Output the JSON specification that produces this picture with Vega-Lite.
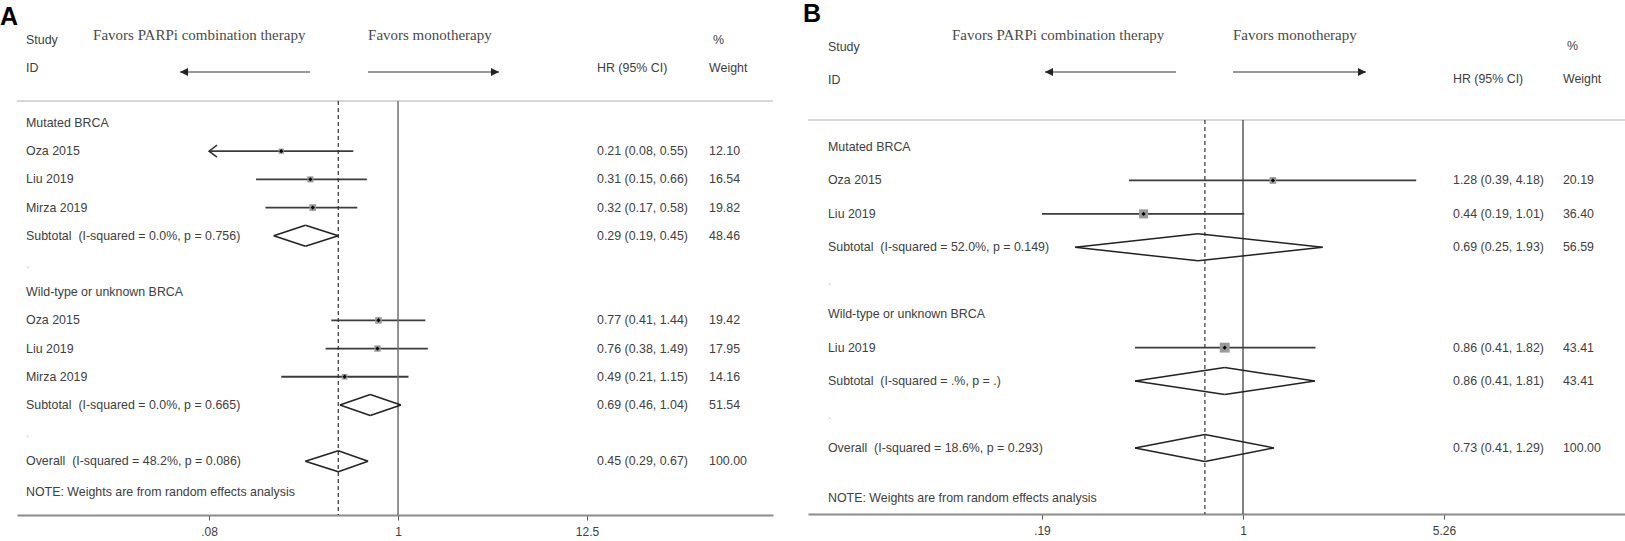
{
  "$schema": "https://vega.github.io/schema/vega-lite/v6.json",
  "background": "white",
  "padding": {"left": 0, "top": 0, "right": 0, "bottom": 26},
  "spacing": 35,
  "bounds": "flush",
  "config": {
    "view": {"stroke": null},
    "font": "Liberation Sans",
    "text": {"font": "Liberation Sans", "fontSize": 12.4, "color": "#404040", "align": "left", "baseline": "middle"},
    "axis": {"grid": false}
  },
  "datasets": {
    "a": [
      {"row": 1, "label": "Mutated BRCA", "type": "head"},
      {"row": 2, "label": "Oza 2015", "type": "study", "hr": 0.21, "lo": 0.08, "hi": 0.55, "ci": "0.21 (0.08, 0.55)", "w": 12.10},
      {"row": 3, "label": "Liu 2019", "type": "study", "hr": 0.31, "lo": 0.15, "hi": 0.66, "ci": "0.31 (0.15, 0.66)", "w": 16.54},
      {"row": 4, "label": "Mirza 2019", "type": "study", "hr": 0.32, "lo": 0.17, "hi": 0.58, "ci": "0.32 (0.17, 0.58)", "w": 19.82},
      {"row": 5, "label": "Subtotal \u00a0(I-squared = 0.0%, p = 0.756)", "type": "pooled", "hr": 0.29, "lo": 0.19, "hi": 0.45, "ci": "0.29 (0.19, 0.45)", "w": 48.46},
      {"row": 6, "label": ".", "type": "blank"},
      {"row": 7, "label": "Wild-type or unknown BRCA", "type": "head"},
      {"row": 8, "label": "Oza 2015", "type": "study", "hr": 0.77, "lo": 0.41, "hi": 1.44, "ci": "0.77 (0.41, 1.44)", "w": 19.42},
      {"row": 9, "label": "Liu 2019", "type": "study", "hr": 0.76, "lo": 0.38, "hi": 1.49, "ci": "0.76 (0.38, 1.49)", "w": 17.95},
      {"row": 10, "label": "Mirza 2019", "type": "study", "hr": 0.49, "lo": 0.21, "hi": 1.15, "ci": "0.49 (0.21, 1.15)", "w": 14.16},
      {"row": 11, "label": "Subtotal \u00a0(I-squared = 0.0%, p = 0.665)", "type": "pooled", "hr": 0.69, "lo": 0.46, "hi": 1.04, "ci": "0.69 (0.46, 1.04)", "w": 51.54},
      {"row": 12, "label": ".", "type": "blank"},
      {"row": 13, "label": "Overall \u00a0(I-squared = 48.2%, p = 0.086)", "type": "pooled", "hr": 0.45, "lo": 0.29, "hi": 0.67, "ci": "0.45 (0.29, 0.67)", "w": 100.00}
    ],
    "b": [
      {"row": 1, "label": "Mutated BRCA", "type": "head"},
      {"row": 2, "label": "Oza 2015", "type": "study", "hr": 1.28, "lo": 0.39, "hi": 4.18, "ci": "1.28 (0.39, 4.18)", "w": 20.19},
      {"row": 3, "label": "Liu 2019", "type": "study", "hr": 0.44, "lo": 0.19, "hi": 1.01, "ci": "0.44 (0.19, 1.01)", "w": 36.40},
      {"row": 4, "label": "Subtotal \u00a0(I-squared = 52.0%, p = 0.149)", "type": "pooled", "hr": 0.69, "lo": 0.25, "hi": 1.93, "ci": "0.69 (0.25, 1.93)", "w": 56.59},
      {"row": 5, "label": ".", "type": "blank"},
      {"row": 6, "label": "Wild-type or unknown BRCA", "type": "head"},
      {"row": 7, "label": "Liu 2019", "type": "study", "hr": 0.86, "lo": 0.41, "hi": 1.82, "ci": "0.86 (0.41, 1.82)", "w": 43.41},
      {"row": 8, "label": "Subtotal \u00a0(I-squared = .%, p = .)", "type": "pooled", "hr": 0.86, "lo": 0.41, "hi": 1.81, "ci": "0.86 (0.41, 1.81)", "w": 43.41},
      {"row": 9, "label": ".", "type": "blank"},
      {"row": 10, "label": "Overall \u00a0(I-squared = 18.6%, p = 0.293)", "type": "pooled", "hr": 0.73, "lo": 0.41, "hi": 1.29, "ci": "0.73 (0.41, 1.29)", "w": 100.00}
    ]
  },
  "hconcat": [
    {
      "width": 756,
      "height": 515,
      "data": {"name": "a"},
      "resolve": {"axis": {"x": "independent", "y": "independent"}},
      "layer": [
        {"transform": [{"filter": "datum.type == 'study'"}],
         "mark": {"type": "rule", "color": "#3c3c3c", "strokeWidth": 1.8},
         "encoding": {
           "x": {"field": "lo", "type": "quantitative", "scale": {"type": "log", "domain": [0.006145, 150.1], "nice": false},
                 "axis": {"orient": "bottom", "values": [0.08, 1, 12.5], "labelExpr": "datum.value < 1 ? slice(format(datum.value, '~g'), 1) : format(datum.value, '~g')", "title": null, "domain": true, "ticks": true, "labels": true, "domainColor": "#8c8c8c", "domainWidth": 2, "tickColor": "#555555", "tickSize": 5, "tickWidth": 1, "labelFont": "Liberation Sans", "labelFontSize": 12, "labelColor": "#404040", "labelPadding": 6, "grid": false, "labelFlush": false, "labelOverlap": false}},
           "x2": {"field": "hi"},
           "y": {"field": "row", "type": "quantitative", "scale": {"domain": [-3.362, 14.904], "reverse": true, "nice": false, "zero": false}, "axis": null}
         }},
        {"data": {"values": [{}]}, "mark": {"type": "rule", "color": "#c8c8c8", "strokeWidth": 1.5},
         "encoding": {
           "x": {"datum": 0.006145, "type": "quantitative", "scale": {"type": "log", "domain": [0.006145, 150.1], "nice": false}, "axis": null},
           "x2": {"datum": 150.1},
           "y": {"datum": 0.22, "type": "quantitative", "scale": {"domain": [-3.362, 14.904], "reverse": true, "nice": false, "zero": false}, "axis": null}
         }},
        {"data": {"values": [{}]}, "mark": {"type": "rule", "color": "#707070", "strokeWidth": 1.5},
         "encoding": {
           "x": {"datum": 1, "type": "quantitative", "scale": {"type": "log", "domain": [0.006145, 150.1], "nice": false}, "axis": null},
           "y": {"datum": 0.22, "type": "quantitative", "scale": {"domain": [-3.362, 14.904], "reverse": true, "nice": false, "zero": false}, "axis": null},
           "y2": {"datum": 14.904}
         }},
        {"data": {"values": [{}]}, "mark": {"type": "rule", "color": "#333333", "strokeWidth": 1.2, "strokeDash": [4, 3]},
         "encoding": {
           "x": {"datum": 0.45, "type": "quantitative", "scale": {"type": "log", "domain": [0.006145, 150.1], "nice": false}, "axis": null},
           "y": {"datum": 0.22, "type": "quantitative", "scale": {"domain": [-3.362, 14.904], "reverse": true, "nice": false, "zero": false}, "axis": null},
           "y2": {"datum": 14.904}
         }},
        {"transform": [{"filter": "datum.type == 'study' && datum.lo <= 0.08"}],
         "mark": {"type": "point", "shape": "M1.33,-1L0,0L1.33,1", "filled": false, "stroke": "#333333", "strokeWidth": 1.5, "size": 144, "opacity": 1},
         "encoding": {
           "x": {"field": "lo", "type": "quantitative", "scale": {"type": "log", "domain": [0.006145, 150.1], "nice": false}, "axis": null},
           "y": {"field": "row", "type": "quantitative", "scale": {"domain": [-3.362, 14.904], "reverse": true, "nice": false, "zero": false}, "axis": null}
         }},
        {"transform": [{"filter": "datum.type == 'study'"}],
         "mark": {"type": "point", "shape": "square", "filled": true, "color": "#9a9a9a", "opacity": 1},
         "encoding": {
           "x": {"field": "hr", "type": "quantitative", "scale": {"type": "log", "domain": [0.006145, 150.1], "nice": false}, "axis": null},
           "y": {"field": "row", "type": "quantitative", "scale": {"domain": [-3.362, 14.904], "reverse": true, "nice": false, "zero": false}, "axis": null},
           "size": {"field": "w", "type": "quantitative", "scale": {"domain": [0, 50], "range": [0, 113]}, "legend": null}
         }},
        {"transform": [{"filter": "datum.type == 'study'"}],
         "mark": {"type": "point", "shape": "diamond", "filled": true, "color": "#000000", "size": 18, "opacity": 1},
         "encoding": {
           "x": {"field": "hr", "type": "quantitative", "scale": {"type": "log", "domain": [0.006145, 150.1], "nice": false}, "axis": null},
           "y": {"field": "row", "type": "quantitative", "scale": {"domain": [-3.362, 14.904], "reverse": true, "nice": false, "zero": false}, "axis": null}
         }},
        {"transform": [{"filter": "datum.type == 'pooled'"}],
         "mark": {"type": "rule", "color": "#222222", "strokeWidth": 1.5, "y2Offset": -10.5},
         "encoding": {
           "x": {"field": "lo", "type": "quantitative", "scale": {"type": "log", "domain": [0.006145, 150.1], "nice": false}, "axis": null},
           "x2": {"field": "hr"},
           "y": {"field": "row", "type": "quantitative", "scale": {"domain": [-3.362, 14.904], "reverse": true, "nice": false, "zero": false}, "axis": null},
           "y2": {"field": "row"}
         }},
        {"transform": [{"filter": "datum.type == 'pooled'"}],
         "mark": {"type": "rule", "color": "#222222", "strokeWidth": 1.5, "y2Offset": 10.5},
         "encoding": {
           "x": {"field": "lo", "type": "quantitative", "scale": {"type": "log", "domain": [0.006145, 150.1], "nice": false}, "axis": null},
           "x2": {"field": "hr"},
           "y": {"field": "row", "type": "quantitative", "scale": {"domain": [-3.362, 14.904], "reverse": true, "nice": false, "zero": false}, "axis": null},
           "y2": {"field": "row"}
         }},
        {"transform": [{"filter": "datum.type == 'pooled'"}],
         "mark": {"type": "rule", "color": "#222222", "strokeWidth": 1.5, "yOffset": -10.5},
         "encoding": {
           "x": {"field": "hr", "type": "quantitative", "scale": {"type": "log", "domain": [0.006145, 150.1], "nice": false}, "axis": null},
           "x2": {"field": "hi"},
           "y": {"field": "row", "type": "quantitative", "scale": {"domain": [-3.362, 14.904], "reverse": true, "nice": false, "zero": false}, "axis": null},
           "y2": {"field": "row"}
         }},
        {"transform": [{"filter": "datum.type == 'pooled'"}],
         "mark": {"type": "rule", "color": "#222222", "strokeWidth": 1.5, "yOffset": 10.5},
         "encoding": {
           "x": {"field": "hr", "type": "quantitative", "scale": {"type": "log", "domain": [0.006145, 150.1], "nice": false}, "axis": null},
           "x2": {"field": "hi"},
           "y": {"field": "row", "type": "quantitative", "scale": {"domain": [-3.362, 14.904], "reverse": true, "nice": false, "zero": false}, "axis": null},
           "y2": {"field": "row"}
         }},
        {"mark": {"type": "text"},
         "encoding": {
           "x": {"datum": 0.006934, "type": "quantitative", "scale": {"type": "log", "domain": [0.006145, 150.1], "nice": false}, "axis": null},
           "y": {"field": "row", "type": "quantitative", "scale": {"domain": [-3.362, 14.904], "reverse": true, "nice": false, "zero": false}, "axis": null},
           "text": {"field": "label"},
           "color": {"condition": {"test": "datum.type == 'blank'", "value": "#c4c4c4"}, "value": "#404040"}
         }},
        {"transform": [{"filter": "datum.ci != null"}],
         "mark": {"type": "text"},
         "encoding": {
           "x": {"datum": 14.29, "type": "quantitative", "scale": {"type": "log", "domain": [0.006145, 150.1], "nice": false}, "axis": null},
           "y": {"field": "row", "type": "quantitative", "scale": {"domain": [-3.362, 14.904], "reverse": true, "nice": false, "zero": false}, "axis": null},
           "text": {"field": "ci"}
         }},
        {"transform": [{"filter": "datum.w != null"}],
         "mark": {"type": "text"},
         "encoding": {
           "x": {"datum": 63.83, "type": "quantitative", "scale": {"type": "log", "domain": [0.006145, 150.1], "nice": false}, "axis": null},
           "y": {"field": "row", "type": "quantitative", "scale": {"domain": [-3.362, 14.904], "reverse": true, "nice": false, "zero": false}, "axis": null},
           "text": {"field": "w", "type": "quantitative", "format": ".2f"}
         }},
        {"data": {"values": [{}]}, "mark": {"type": "text", "fontSize": 25, "fontWeight": "bold", "color": "#000000", "baseline": "alphabetic"},
         "encoding": {
           "x": {"datum": 0.004899, "type": "quantitative", "scale": {"type": "log", "domain": [0.006145, 150.1], "nice": false}, "axis": null},
           "y": {"datum": -2.475, "type": "quantitative", "scale": {"domain": [-3.362, 14.904], "reverse": true, "nice": false, "zero": false}, "axis": null},
           "text": {"value": "A"}
         }},
        {"data": {"values": [{}]}, "mark": {"type": "text"},
         "encoding": {
           "x": {"datum": 0.006934, "type": "quantitative", "scale": {"type": "log", "domain": [0.006145, 150.1], "nice": false}, "axis": null},
           "y": {"datum": -1.943, "type": "quantitative", "scale": {"domain": [-3.362, 14.904], "reverse": true, "nice": false, "zero": false}, "axis": null},
           "text": {"value": "Study"}
         }},
        {"data": {"values": [{}]}, "mark": {"type": "text"},
         "encoding": {
           "x": {"datum": 0.006934, "type": "quantitative", "scale": {"type": "log", "domain": [0.006145, 150.1], "nice": false}, "axis": null},
           "y": {"datum": -0.95, "type": "quantitative", "scale": {"domain": [-3.362, 14.904], "reverse": true, "nice": false, "zero": false}, "axis": null},
           "text": {"value": "ID"}
         }},
        {"data": {"values": [{}]}, "mark": {"type": "text", "font": "Liberation Serif", "fontSize": 15, "color": "#4a4a4a"},
         "encoding": {
           "x": {"datum": 0.01698, "type": "quantitative", "scale": {"type": "log", "domain": [0.006145, 150.1], "nice": false}, "axis": null},
           "y": {"datum": -2.121, "type": "quantitative", "scale": {"domain": [-3.362, 14.904], "reverse": true, "nice": false, "zero": false}, "axis": null},
           "text": {"value": "Favors PARPi combination therapy"}
         }},
        {"data": {"values": [{}]}, "mark": {"type": "text", "font": "Liberation Serif", "fontSize": 15, "color": "#4a4a4a"},
         "encoding": {
           "x": {"datum": 0.6698, "type": "quantitative", "scale": {"type": "log", "domain": [0.006145, 150.1], "nice": false}, "axis": null},
           "y": {"datum": -2.121, "type": "quantitative", "scale": {"domain": [-3.362, 14.904], "reverse": true, "nice": false, "zero": false}, "axis": null},
           "text": {"value": "Favors monotherapy"}
         }},
        {"data": {"values": [{}]}, "mark": {"type": "rule", "color": "#777777", "strokeWidth": 1.5},
         "encoding": {
           "x": {"datum": 0.0543, "type": "quantitative", "scale": {"type": "log", "domain": [0.006145, 150.1], "nice": false}, "axis": null},
           "x2": {"datum": 0.3085},
           "y": {"datum": -0.809, "type": "quantitative", "scale": {"domain": [-3.362, 14.904], "reverse": true, "nice": false, "zero": false}, "axis": null}
         }},
        {"data": {"values": [{}]}, "mark": {"type": "point", "shape": "M0,0L2,-1L2,1Z", "filled": true, "color": "#222222", "size": 64, "opacity": 1},
         "encoding": {
           "x": {"datum": 0.0543, "type": "quantitative", "scale": {"type": "log", "domain": [0.006145, 150.1], "nice": false}, "axis": null},
           "y": {"datum": -0.809, "type": "quantitative", "scale": {"domain": [-3.362, 14.904], "reverse": true, "nice": false, "zero": false}, "axis": null}
         }},
        {"data": {"values": [{}]}, "mark": {"type": "rule", "color": "#777777", "strokeWidth": 1.5},
         "encoding": {
           "x": {"datum": 0.6698, "type": "quantitative", "scale": {"type": "log", "domain": [0.006145, 150.1], "nice": false}, "axis": null},
           "x2": {"datum": 3.857},
           "y": {"datum": -0.809, "type": "quantitative", "scale": {"domain": [-3.362, 14.904], "reverse": true, "nice": false, "zero": false}, "axis": null}
         }},
        {"data": {"values": [{}]}, "mark": {"type": "point", "shape": "M0,0L-2,-1L-2,1Z", "filled": true, "color": "#222222", "size": 64, "opacity": 1},
         "encoding": {
           "x": {"datum": 3.857, "type": "quantitative", "scale": {"type": "log", "domain": [0.006145, 150.1], "nice": false}, "axis": null},
           "y": {"datum": -0.809, "type": "quantitative", "scale": {"domain": [-3.362, 14.904], "reverse": true, "nice": false, "zero": false}, "axis": null}
         }},
        {"data": {"values": [{}]}, "mark": {"type": "text", "dx": 4},
         "encoding": {
           "x": {"datum": 63.83, "type": "quantitative", "scale": {"type": "log", "domain": [0.006145, 150.1], "nice": false}, "axis": null},
           "y": {"datum": -1.943, "type": "quantitative", "scale": {"domain": [-3.362, 14.904], "reverse": true, "nice": false, "zero": false}, "axis": null},
           "text": {"value": "%"}
         }},
        {"data": {"values": [{}]}, "mark": {"type": "text"},
         "encoding": {
           "x": {"datum": 14.29, "type": "quantitative", "scale": {"type": "log", "domain": [0.006145, 150.1], "nice": false}, "axis": null},
           "y": {"datum": -0.95, "type": "quantitative", "scale": {"domain": [-3.362, 14.904], "reverse": true, "nice": false, "zero": false}, "axis": null},
           "text": {"value": "HR (95% CI)"}
         }},
        {"data": {"values": [{}]}, "mark": {"type": "text"},
         "encoding": {
           "x": {"datum": 63.83, "type": "quantitative", "scale": {"type": "log", "domain": [0.006145, 150.1], "nice": false}, "axis": null},
           "y": {"datum": -0.95, "type": "quantitative", "scale": {"domain": [-3.362, 14.904], "reverse": true, "nice": false, "zero": false}, "axis": null},
           "text": {"value": "Weight"}
         }},
        {"data": {"values": [{}]}, "mark": {"type": "text"},
         "encoding": {
           "x": {"datum": 0.006934, "type": "quantitative", "scale": {"type": "log", "domain": [0.006145, 150.1], "nice": false}, "axis": null},
           "y": {"datum": 14.085, "type": "quantitative", "scale": {"domain": [-3.362, 14.904], "reverse": true, "nice": false, "zero": false}, "axis": null},
           "text": {"value": "NOTE: Weights are from random effects analysis"}
         }}
      ]
    },
    {
      "width": 817,
      "height": 514,
      "data": {"name": "b"},
      "resolve": {"axis": {"x": "independent", "y": "independent"}},
      "layer": [
        {"transform": [{"filter": "datum.type == 'study'"}],
         "mark": {"type": "rule", "color": "#3c3c3c", "strokeWidth": 1.8},
         "encoding": {
           "x": {"field": "lo", "type": "quantitative", "scale": {"type": "log", "domain": [0.02753, 23.45], "nice": false},
                 "axis": {"orient": "bottom", "values": [0.19, 1, 5.26], "labelExpr": "datum.value < 1 ? slice(format(datum.value, '~g'), 1) : format(datum.value, '~g')", "title": null, "domain": true, "ticks": true, "labels": true, "domainColor": "#8c8c8c", "domainWidth": 2, "tickColor": "#555555", "tickSize": 5, "tickWidth": 1, "labelFont": "Liberation Sans", "labelFontSize": 12, "labelColor": "#404040", "labelPadding": 6, "grid": false, "labelFlush": false, "labelOverlap": false}},
           "x2": {"field": "hi"},
           "y": {"field": "row", "type": "quantitative", "scale": {"domain": [-3.396, 11.975], "reverse": true, "nice": false, "zero": false}, "axis": null}
         }},
        {"data": {"values": [{}]}, "mark": {"type": "rule", "color": "#c8c8c8", "strokeWidth": 1.5},
         "encoding": {
           "x": {"datum": 0.02753, "type": "quantitative", "scale": {"type": "log", "domain": [0.02753, 23.45], "nice": false}, "axis": null},
           "x2": {"datum": 23.45},
           "y": {"datum": 0.1926, "type": "quantitative", "scale": {"domain": [-3.396, 11.975], "reverse": true, "nice": false, "zero": false}, "axis": null}
         }},
        {"data": {"values": [{}]}, "mark": {"type": "rule", "color": "#404040", "strokeWidth": 1.3},
         "encoding": {
           "x": {"datum": 1, "type": "quantitative", "scale": {"type": "log", "domain": [0.02753, 23.45], "nice": false}, "axis": null},
           "y": {"datum": 0.1926, "type": "quantitative", "scale": {"domain": [-3.396, 11.975], "reverse": true, "nice": false, "zero": false}, "axis": null},
           "y2": {"datum": 11.975}
         }},
        {"data": {"values": [{}]}, "mark": {"type": "rule", "color": "#333333", "strokeWidth": 1.2, "strokeDash": [4, 3]},
         "encoding": {
           "x": {"datum": 0.73, "type": "quantitative", "scale": {"type": "log", "domain": [0.02753, 23.45], "nice": false}, "axis": null},
           "y": {"datum": 0.1926, "type": "quantitative", "scale": {"domain": [-3.396, 11.975], "reverse": true, "nice": false, "zero": false}, "axis": null},
           "y2": {"datum": 11.975}
         }},
        {"transform": [{"filter": "datum.type == 'study'"}],
         "mark": {"type": "point", "shape": "square", "filled": true, "color": "#9a9a9a", "opacity": 1},
         "encoding": {
           "x": {"field": "hr", "type": "quantitative", "scale": {"type": "log", "domain": [0.02753, 23.45], "nice": false}, "axis": null},
           "y": {"field": "row", "type": "quantitative", "scale": {"domain": [-3.396, 11.975], "reverse": true, "nice": false, "zero": false}, "axis": null},
           "size": {"field": "w", "type": "quantitative", "scale": {"domain": [0, 50], "range": [0, 113]}, "legend": null}
         }},
        {"transform": [{"filter": "datum.type == 'study'"}],
         "mark": {"type": "point", "shape": "diamond", "filled": true, "color": "#000000", "size": 18, "opacity": 1},
         "encoding": {
           "x": {"field": "hr", "type": "quantitative", "scale": {"type": "log", "domain": [0.02753, 23.45], "nice": false}, "axis": null},
           "y": {"field": "row", "type": "quantitative", "scale": {"domain": [-3.396, 11.975], "reverse": true, "nice": false, "zero": false}, "axis": null}
         }},
        {"transform": [{"filter": "datum.type == 'pooled'"}],
         "mark": {"type": "rule", "color": "#222222", "strokeWidth": 1.5, "y2Offset": -13.5},
         "encoding": {
           "x": {"field": "lo", "type": "quantitative", "scale": {"type": "log", "domain": [0.02753, 23.45], "nice": false}, "axis": null},
           "x2": {"field": "hr"},
           "y": {"field": "row", "type": "quantitative", "scale": {"domain": [-3.396, 11.975], "reverse": true, "nice": false, "zero": false}, "axis": null},
           "y2": {"field": "row"}
         }},
        {"transform": [{"filter": "datum.type == 'pooled'"}],
         "mark": {"type": "rule", "color": "#222222", "strokeWidth": 1.5, "y2Offset": 13.5},
         "encoding": {
           "x": {"field": "lo", "type": "quantitative", "scale": {"type": "log", "domain": [0.02753, 23.45], "nice": false}, "axis": null},
           "x2": {"field": "hr"},
           "y": {"field": "row", "type": "quantitative", "scale": {"domain": [-3.396, 11.975], "reverse": true, "nice": false, "zero": false}, "axis": null},
           "y2": {"field": "row"}
         }},
        {"transform": [{"filter": "datum.type == 'pooled'"}],
         "mark": {"type": "rule", "color": "#222222", "strokeWidth": 1.5, "yOffset": -13.5},
         "encoding": {
           "x": {"field": "hr", "type": "quantitative", "scale": {"type": "log", "domain": [0.02753, 23.45], "nice": false}, "axis": null},
           "x2": {"field": "hi"},
           "y": {"field": "row", "type": "quantitative", "scale": {"domain": [-3.396, 11.975], "reverse": true, "nice": false, "zero": false}, "axis": null},
           "y2": {"field": "row"}
         }},
        {"transform": [{"filter": "datum.type == 'pooled'"}],
         "mark": {"type": "rule", "color": "#222222", "strokeWidth": 1.5, "yOffset": 13.5},
         "encoding": {
           "x": {"field": "hr", "type": "quantitative", "scale": {"type": "log", "domain": [0.02753, 23.45], "nice": false}, "axis": null},
           "x2": {"field": "hi"},
           "y": {"field": "row", "type": "quantitative", "scale": {"domain": [-3.396, 11.975], "reverse": true, "nice": false, "zero": false}, "axis": null},
           "y2": {"field": "row"}
         }},
        {"mark": {"type": "text"},
         "encoding": {
           "x": {"datum": 0.03247, "type": "quantitative", "scale": {"type": "log", "domain": [0.02753, 23.45], "nice": false}, "axis": null},
           "y": {"field": "row", "type": "quantitative", "scale": {"domain": [-3.396, 11.975], "reverse": true, "nice": false, "zero": false}, "axis": null},
           "text": {"field": "label"},
           "color": {"condition": {"test": "datum.type == 'blank'", "value": "#c4c4c4"}, "value": "#404040"}
         }},
        {"transform": [{"filter": "datum.ci != null"}],
         "mark": {"type": "text"},
         "encoding": {
           "x": {"datum": 5.665, "type": "quantitative", "scale": {"type": "log", "domain": [0.02753, 23.45], "nice": false}, "axis": null},
           "y": {"field": "row", "type": "quantitative", "scale": {"domain": [-3.396, 11.975], "reverse": true, "nice": false, "zero": false}, "axis": null},
           "text": {"field": "ci"}
         }},
        {"transform": [{"filter": "datum.w != null"}],
         "mark": {"type": "text"},
         "encoding": {
           "x": {"datum": 14.05, "type": "quantitative", "scale": {"type": "log", "domain": [0.02753, 23.45], "nice": false}, "axis": null},
           "y": {"field": "row", "type": "quantitative", "scale": {"domain": [-3.396, 11.975], "reverse": true, "nice": false, "zero": false}, "axis": null},
           "text": {"field": "w", "type": "quantitative", "format": ".2f"}
         }},
        {"data": {"values": [{}]}, "mark": {"type": "text", "fontSize": 25, "fontWeight": "bold", "color": "#000000", "baseline": "alphabetic"},
         "encoding": {
           "x": {"datum": 0.02641, "type": "quantitative", "scale": {"type": "log", "domain": [0.02753, 23.45], "nice": false}, "axis": null},
           "y": {"datum": -2.738, "type": "quantitative", "scale": {"domain": [-3.396, 11.975], "reverse": true, "nice": false, "zero": false}, "axis": null},
           "text": {"value": "B"}
         }},
        {"data": {"values": [{}]}, "mark": {"type": "text"},
         "encoding": {
           "x": {"datum": 0.03247, "type": "quantitative", "scale": {"type": "log", "domain": [0.02753, 23.45], "nice": false}, "axis": null},
           "y": {"datum": -1.99, "type": "quantitative", "scale": {"domain": [-3.396, 11.975], "reverse": true, "nice": false, "zero": false}, "axis": null},
           "text": {"value": "Study"}
         }},
        {"data": {"values": [{}]}, "mark": {"type": "text"},
         "encoding": {
           "x": {"datum": 0.03247, "type": "quantitative", "scale": {"type": "log", "domain": [0.02753, 23.45], "nice": false}, "axis": null},
           "y": {"datum": -1.004, "type": "quantitative", "scale": {"domain": [-3.396, 11.975], "reverse": true, "nice": false, "zero": false}, "axis": null},
           "text": {"value": "ID"}
         }},
        {"data": {"values": [{}]}, "mark": {"type": "text", "font": "Liberation Serif", "fontSize": 15, "color": "#4a4a4a"},
         "encoding": {
           "x": {"datum": 0.09042, "type": "quantitative", "scale": {"type": "log", "domain": [0.02753, 23.45], "nice": false}, "axis": null},
           "y": {"datum": -2.35, "type": "quantitative", "scale": {"domain": [-3.396, 11.975], "reverse": true, "nice": false, "zero": false}, "axis": null},
           "text": {"value": "Favors PARPi combination therapy"}
         }},
        {"data": {"values": [{}]}, "mark": {"type": "text", "font": "Liberation Serif", "fontSize": 15, "color": "#4a4a4a"},
         "encoding": {
           "x": {"datum": 0.9207, "type": "quantitative", "scale": {"type": "log", "domain": [0.02753, 23.45], "nice": false}, "axis": null},
           "y": {"datum": -2.35, "type": "quantitative", "scale": {"domain": [-3.396, 11.975], "reverse": true, "nice": false, "zero": false}, "axis": null},
           "text": {"value": "Favors monotherapy"}
         }},
        {"data": {"values": [{}]}, "mark": {"type": "rule", "color": "#777777", "strokeWidth": 1.5},
         "encoding": {
           "x": {"datum": 0.1949, "type": "quantitative", "scale": {"type": "log", "domain": [0.02753, 23.45], "nice": false}, "axis": null},
           "x2": {"datum": 0.575},
           "y": {"datum": -1.243, "type": "quantitative", "scale": {"domain": [-3.396, 11.975], "reverse": true, "nice": false, "zero": false}, "axis": null}
         }},
        {"data": {"values": [{}]}, "mark": {"type": "point", "shape": "M0,0L2,-1L2,1Z", "filled": true, "color": "#222222", "size": 64, "opacity": 1},
         "encoding": {
           "x": {"datum": 0.1949, "type": "quantitative", "scale": {"type": "log", "domain": [0.02753, 23.45], "nice": false}, "axis": null},
           "y": {"datum": -1.243, "type": "quantitative", "scale": {"domain": [-3.396, 11.975], "reverse": true, "nice": false, "zero": false}, "axis": null}
         }},
        {"data": {"values": [{}]}, "mark": {"type": "rule", "color": "#777777", "strokeWidth": 1.5},
         "encoding": {
           "x": {"datum": 0.9207, "type": "quantitative", "scale": {"type": "log", "domain": [0.02753, 23.45], "nice": false}, "axis": null},
           "x2": {"datum": 2.762},
           "y": {"datum": -1.243, "type": "quantitative", "scale": {"domain": [-3.396, 11.975], "reverse": true, "nice": false, "zero": false}, "axis": null}
         }},
        {"data": {"values": [{}]}, "mark": {"type": "point", "shape": "M0,0L-2,-1L-2,1Z", "filled": true, "color": "#222222", "size": 64, "opacity": 1},
         "encoding": {
           "x": {"datum": 2.762, "type": "quantitative", "scale": {"type": "log", "domain": [0.02753, 23.45], "nice": false}, "axis": null},
           "y": {"datum": -1.243, "type": "quantitative", "scale": {"domain": [-3.396, 11.975], "reverse": true, "nice": false, "zero": false}, "axis": null}
         }},
        {"data": {"values": [{}]}, "mark": {"type": "text", "dx": 4},
         "encoding": {
           "x": {"datum": 14.05, "type": "quantitative", "scale": {"type": "log", "domain": [0.02753, 23.45], "nice": false}, "axis": null},
           "y": {"datum": -2.02, "type": "quantitative", "scale": {"domain": [-3.396, 11.975], "reverse": true, "nice": false, "zero": false}, "axis": null},
           "text": {"value": "%"}
         }},
        {"data": {"values": [{}]}, "mark": {"type": "text"},
         "encoding": {
           "x": {"datum": 5.665, "type": "quantitative", "scale": {"type": "log", "domain": [0.02753, 23.45], "nice": false}, "axis": null},
           "y": {"datum": -1.034, "type": "quantitative", "scale": {"domain": [-3.396, 11.975], "reverse": true, "nice": false, "zero": false}, "axis": null},
           "text": {"value": "HR (95% CI)"}
         }},
        {"data": {"values": [{}]}, "mark": {"type": "text"},
         "encoding": {
           "x": {"datum": 14.05, "type": "quantitative", "scale": {"type": "log", "domain": [0.02753, 23.45], "nice": false}, "axis": null},
           "y": {"datum": -1.034, "type": "quantitative", "scale": {"domain": [-3.396, 11.975], "reverse": true, "nice": false, "zero": false}, "axis": null},
           "text": {"value": "Weight"}
         }},
        {"data": {"values": [{}]}, "mark": {"type": "text"},
         "encoding": {
           "x": {"datum": 0.03247, "type": "quantitative", "scale": {"type": "log", "domain": [0.02753, 23.45], "nice": false}, "axis": null},
           "y": {"datum": 11.496, "type": "quantitative", "scale": {"domain": [-3.396, 11.975], "reverse": true, "nice": false, "zero": false}, "axis": null},
           "text": {"value": "NOTE: Weights are from random effects analysis"}
         }}
      ]
    }
  ]
}
